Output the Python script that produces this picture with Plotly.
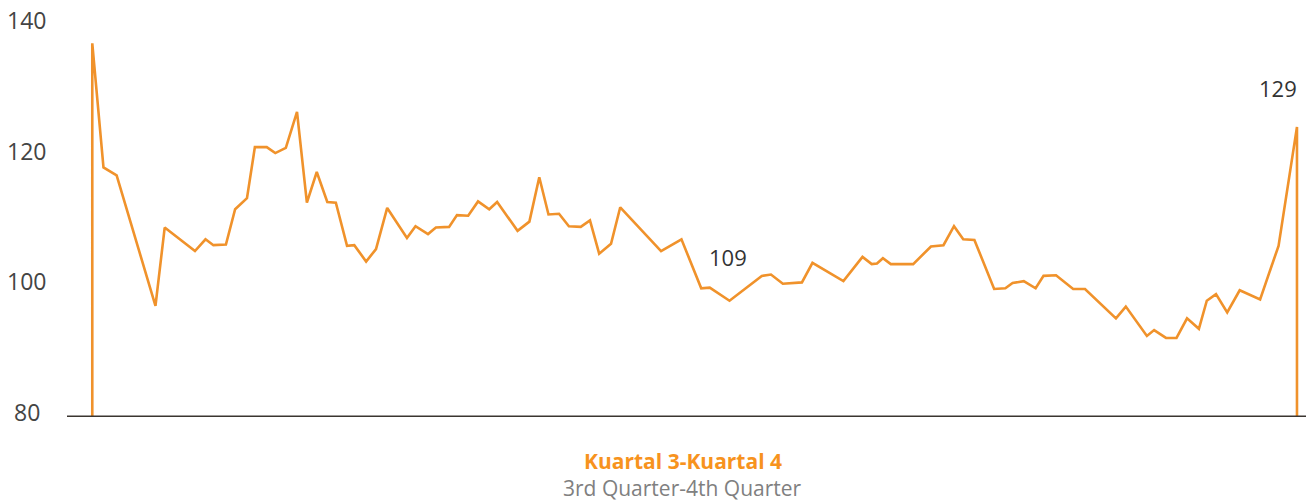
import plotly.graph_objects as go

# days since start of Q3 (x) and index value (y)
days = [0.0, 1.7, 3.7, 9.6, 11.0, 15.6, 17.2, 18.4, 20.3, 21.7,
        23.5, 24.7, 26.5, 27.8, 29.4, 31.1, 32.6, 34.1, 35.7, 37.0,
        38.7, 39.8, 41.6, 43.1, 44.8, 47.8, 49.1, 51.0, 52.2, 54.2,
        55.4, 57.1, 58.6, 60.3, 61.5, 64.6, 66.4, 67.9, 69.3, 70.9,
        72.4, 74.2, 75.6, 77.0, 78.8, 80.2, 86.4, 89.5, 92.5, 93.8,
        96.8, 101.7, 103.1, 104.9, 107.8, 109.4, 114.1, 117.0, 118.4, 119.2,
        120.1, 121.3, 124.7, 127.4, 129.3, 130.9, 132.3, 134.0, 137.0, 138.7,
        139.8, 141.5, 143.3, 144.5, 146.4, 149.0, 150.8, 155.5, 157.0, 160.2,
        161.3, 163.1, 164.7, 166.3, 168.1, 169.3, 170.7, 172.4, 174.3, 177.4,
        180.2, 183.0]
values = [137.2, 118.2, 117.0, 97.0, 109.0, 105.4, 107.2, 106.3, 106.4, 111.8,
          113.5, 121.3, 121.3, 120.4, 121.2, 126.7, 112.8, 117.5, 112.9, 112.8,
          106.2, 106.3, 103.8, 105.7, 112.0, 107.4, 109.2, 108.0, 109.0, 109.1,
          110.9, 110.8, 113.0, 111.8, 112.9, 108.5, 109.9, 116.7, 111.0, 111.1,
          109.2, 109.1, 110.1, 105.0, 106.5, 112.1, 105.4, 107.2, 99.7, 99.8,
          97.8, 101.6, 101.8, 100.4, 100.6, 103.6, 100.8, 104.5, 103.4, 103.5,
          104.3, 103.4, 103.4, 106.1, 106.3, 109.2, 107.2, 107.1, 99.6, 99.7,
          100.5, 100.8, 99.7, 101.6, 101.7, 99.6, 99.6, 95.1, 96.9, 92.4,
          93.3, 92.1, 92.1, 95.1, 93.5, 97.8, 98.8, 96.0, 99.4, 98.0,
          106.2, 124.4]

y_ticks = [80, 100, 120, 140]
labels = [("109", 96.6, 104.5), ("129", 180.1, 130.4)]
title_id = "Kuartal 3-Kuartal 4"
title_en = "3rd Quarter-4th Quarter"

orange = "#F0922B"
base = y_ticks[0]

fig = go.Figure()
# closed outline: vertical drops at both ends to the baseline
fig.add_trace(go.Scatter(
    x=[days[0]] + days + [days[-1]],
    y=[base] + values + [base],
    mode="lines", line=dict(color=orange, width=2.6),
    hoverinfo="skip", showlegend=False))

fig.update_xaxes(range=[-3.84, 184.37], showgrid=False, zeroline=False,
                 showticklabels=False, showline=False)
fig.update_yaxes(range=[80, 140], showgrid=False, zeroline=False,
                 showticklabels=False, showline=False)

fig.add_shape(type="line", xref="paper", yref="y", x0=0, x1=1, y0=base, y1=base,
              line=dict(color="#3a3530", width=2.8))

font = "'Open Sans', sans-serif"
for t in y_ticks:
    fig.add_annotation(x=-0.0323, xref="paper", y=t, yref="y", text=str(t),
                       showarrow=False, xanchor="center", yshift=5,
                       font=dict(family=font, size=23, color="#444444"))
for txt, lx, ly in labels:
    fig.add_annotation(x=lx, y=ly, text=txt, showarrow=False,
                       font=dict(family=font, size=22, color="#333333"))

fig.add_annotation(x=0.497, xref="paper", y=-0.112, yref="paper", text="<b>" + title_id + "</b>",
                   showarrow=False, yanchor="middle", borderpad=0,
                   font=dict(family=font, size=21, color="#F7931E"))
fig.add_annotation(x=0.497, xref="paper", y=-0.182, yref="paper", text=title_en,
                   showarrow=False, yanchor="middle", borderpad=0,
                   font=dict(family=font, size=21, color="#808080"))

fig.update_layout(width=1306, height=504, margin=dict(l=67, r=0, t=25, b=87),
                  plot_bgcolor="white", paper_bgcolor="white")
fig.write_html("out.html", config={"displayModeBar": False},
               post_script="document.body.style.margin='0';")
